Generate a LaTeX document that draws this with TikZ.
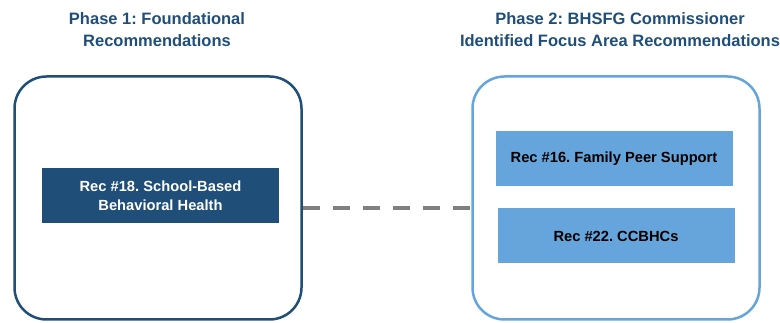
\documentclass[tikz,border=0pt]{standalone}
\usepackage{fontspec}
\setmainfont{Liberation Sans}
\usetikzlibrary{positioning}
\definecolor{navy}{HTML}{1F4E79}
\definecolor{skyblue}{HTML}{66A5DB}
\definecolor{dashgray}{HTML}{808080}
\frenchspacing

\begin{document}
\begin{tikzpicture}[x=1pt, y=-1pt,
    phase/.style={draw, line width=2.5pt, rounded corners=32pt, minimum width=287pt, minimum height=243pt},
    rec/.style={minimum width=237pt, minimum height=55pt, align=center, font=\bfseries\fontsize{14.7}{19.5}\selectfont},
    heading/.style={align=center, text=navy, font=\bfseries\fontsize{16.5}{22}\selectfont}]
    \useasboundingbox (0,0) rectangle (780,323);
    % Draw the two phase frames
    \node[phase, draw=navy] (phaseone) at (158,198) {};
    \node[phase, draw=skyblue] (phasetwo) at (616,198) {};
    % Headings above the frames
    \node[heading] (titleone) at (157,30) {Phase 1: Foundational\\Recommendations};
    \node[heading] (titletwo) at (620,30) {Phase 2: BHSFG Commissioner\\Identified Focus Area Recommendations};
    % Recommendations
    \node[rec, fill=navy, text=white] (rec18) at (160.5,195.5) {Rec \#18. School-Based\\Behavioral Health};
    \node[rec, fill=skyblue] (rec16) at (614,159) {Rec \#16. Family Peer Support};
    \node[rec, fill=skyblue] (rec22) at (616,236) {Rec \#22. CCBHCs};
    % Draw the dashed link
    \draw[dashgray, line width=4pt, dash pattern=on 17pt off 13pt]
        ([yshift=-10pt]phaseone.east) -- ([yshift=-10pt]phasetwo.west);
\end{tikzpicture}
\end{document}
